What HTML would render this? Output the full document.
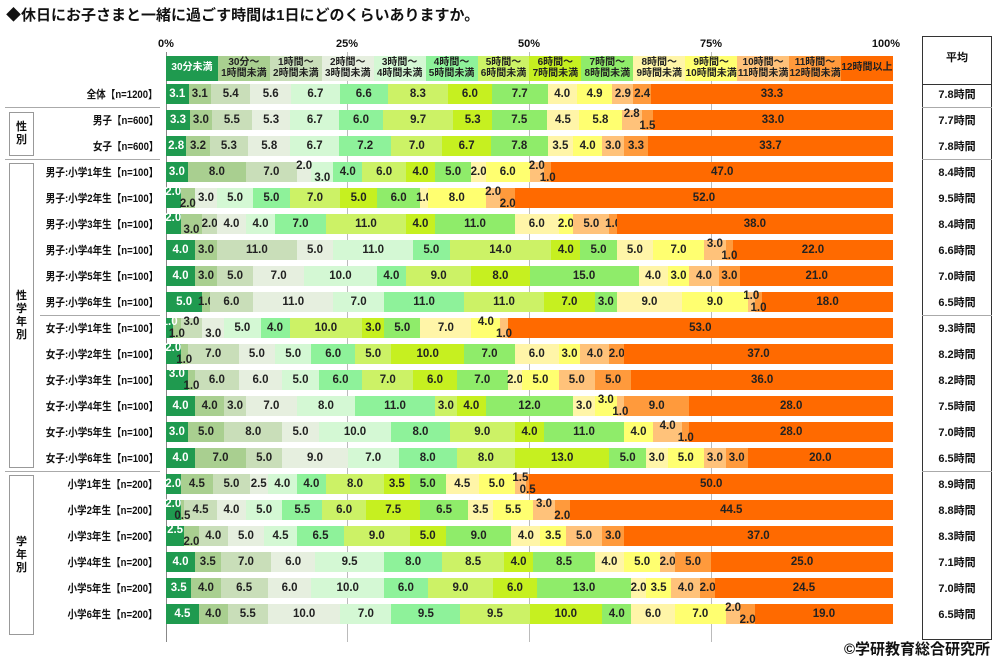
<!DOCTYPE html>
<html><head><meta charset="utf-8"><style>
*{margin:0;padding:0;box-sizing:border-box}
body{width:1000px;height:660px;background:#fff;position:relative;overflow:hidden;font-family:"Liberation Sans","Noto Sans CJK JP",sans-serif;color:#111}
.t{position:absolute;left:6px;top:4px;font-size:15px;font-weight:bold}
.ax{position:absolute;top:38px;font-size:11px;font-weight:bold;transform:translateX(-50%)}
.g{position:absolute;top:52px;width:1px;height:590px;background:#bbb}
.bar{position:absolute;left:166px;width:727px;height:20px;display:flex}
.bar i{font-style:normal;flex-basis:0;display:flex;align-items:center;justify-content:center;font-size:11.5px;font-weight:bold;white-space:nowrap;min-width:0;color:#222}
.bar i.u span{position:relative;top:-6px}.bar i.d span{position:relative;top:6px}
.lg{top:56px;height:25px}.lg i{font-size:10px;line-height:10.5px;text-align:center;flex:1}
.c0{background:#1f9a4f;color:#fff!important}.c1{background:#a9cf90}.c2{background:#c9deb9}.c3{background:#e6efdf}.c4{background:#d4f8d4}.c5{background:#8ef29a}.c6{background:#ccf266}.c7{background:#c6f020}.c8{background:#8fec6a}.c9{background:#fff5a8}.c10{background:#ffff70}.c11{background:#ffc27a}.c12{background:#ff9a3c}.c13{background:#ff6a00}
.rl{position:absolute;right:842px;font-size:11px;font-weight:bold;white-space:nowrap;transform:translateY(-50%) scaleX(0.87);transform-origin:right center}
.av{position:absolute;left:922px;width:70px;text-align:center;font-size:11px;font-weight:bold;transform:translateY(-50%)}
.hl{position:absolute;height:1px;background:#aaa}
.box{position:absolute;border:1px solid #999;font-size:11px;font-weight:bold;display:flex;align-items:center;justify-content:center;text-align:center;line-height:13px}
</style></head><body>
<div class="t">◆休日にお子さまと一緒に過ごす時間は1日にどのくらいありますか。</div>
<div class="ax" style="left:166px">0%</div><div class="ax" style="left:347px">25%</div><div class="ax" style="left:529px">50%</div><div class="ax" style="left:711px">75%</div><div class="ax" style="left:886px">100%</div>
<div class="g" style="left:166px;background:#888"></div><div class="g" style="left:347px"></div><div class="g" style="left:529px"></div><div class="g" style="left:711px"></div>
<div class="bar lg"><i class="c0">30分未満</i><i class="c1">30分～<br>1時間未満</i><i class="c2">1時間～<br>2時間未満</i><i class="c3">2時間～<br>3時間未満</i><i class="c4">3時間～<br>4時間未満</i><i class="c5">4時間～<br>5時間未満</i><i class="c6">5時間～<br>6時間未満</i><i class="c7">6時間～<br>7時間未満</i><i class="c8">7時間～<br>8時間未満</i><i class="c9">8時間～<br>9時間未満</i><i class="c10">9時間～<br>10時間未満</i><i class="c11">10時間～<br>11時間未満</i><i class="c12">11時間～<br>12時間未満</i><i class="c13">12時間以上</i></div>
<div style="position:absolute;left:922px;top:36px;width:70px;height:604px;border:1px solid #333"></div>
<div style="position:absolute;left:922px;top:84px;width:70px;height:1px;background:#333"></div>
<div class="av" style="top:57px">平均</div>
<div class="hl" style="left:5px;width:155px;top:107px"></div><div class="hl" style="left:5px;width:155px;top:159px"></div><div class="hl" style="left:40px;width:120px;top:315px"></div><div class="hl" style="left:5px;width:155px;top:471px"></div>
<div class="hl" style="left:922px;width:70px;top:107px"></div><div class="hl" style="left:922px;width:70px;top:159px"></div><div class="hl" style="left:922px;width:70px;top:315px"></div><div class="hl" style="left:922px;width:70px;top:471px"></div>
<div class="box" style="left:9px;top:112px;width:25px;height:44px">性<br>別</div>
<div class="box" style="left:9px;top:163px;width:25px;height:305px">性<br>学<br>年<br>別</div>
<div class="box" style="left:9px;top:475px;width:25px;height:160px">学<br>年<br>別</div>

<div class="rl" style="top:94px">全体【n=1200】</div><div class="av" style="top:94px">7.8時間</div>
<div class="bar" style="top:84px"><i class="c0" style="flex:3.1"><span>3.1</span></i><i class="c1" style="flex:3.1"><span>3.1</span></i><i class="c2" style="flex:5.4"><span>5.4</span></i><i class="c3" style="flex:5.6"><span>5.6</span></i><i class="c4" style="flex:6.7"><span>6.7</span></i><i class="c5" style="flex:6.6"><span>6.6</span></i><i class="c6" style="flex:8.3"><span>8.3</span></i><i class="c7" style="flex:6"><span>6.0</span></i><i class="c8" style="flex:7.7"><span>7.7</span></i><i class="c9" style="flex:4"><span>4.0</span></i><i class="c10" style="flex:4.9"><span>4.9</span></i><i class="c11" style="flex:2.9"><span>2.9</span></i><i class="c12" style="flex:2.4"><span>2.4</span></i><i class="c13" style="flex:33.3"><span>33.3</span></i></div>

<div class="rl" style="top:120px">男子【n=600】</div><div class="av" style="top:120px">7.7時間</div>
<div class="bar" style="top:110px"><i class="c0" style="flex:3.3"><span>3.3</span></i><i class="c1" style="flex:3"><span>3.0</span></i><i class="c2" style="flex:5.5"><span>5.5</span></i><i class="c3" style="flex:5.3"><span>5.3</span></i><i class="c4" style="flex:6.7"><span>6.7</span></i><i class="c5" style="flex:6"><span>6.0</span></i><i class="c6" style="flex:9.7"><span>9.7</span></i><i class="c7" style="flex:5.3"><span>5.3</span></i><i class="c8" style="flex:7.5"><span>7.5</span></i><i class="c9" style="flex:4.5"><span>4.5</span></i><i class="c10" style="flex:5.8"><span>5.8</span></i><i class="c11 u" style="flex:2.8"><span>2.8</span></i><i class="c12 d" style="flex:1.5"><span>1.5</span></i><i class="c13" style="flex:33"><span>33.0</span></i></div>

<div class="rl" style="top:146px">女子【n=600】</div><div class="av" style="top:146px">7.8時間</div>
<div class="bar" style="top:136px"><i class="c0" style="flex:2.8"><span>2.8</span></i><i class="c1" style="flex:3.2"><span>3.2</span></i><i class="c2" style="flex:5.3"><span>5.3</span></i><i class="c3" style="flex:5.8"><span>5.8</span></i><i class="c4" style="flex:6.7"><span>6.7</span></i><i class="c5" style="flex:7.2"><span>7.2</span></i><i class="c6" style="flex:7"><span>7.0</span></i><i class="c7" style="flex:6.7"><span>6.7</span></i><i class="c8" style="flex:7.8"><span>7.8</span></i><i class="c9" style="flex:3.5"><span>3.5</span></i><i class="c10" style="flex:4"><span>4.0</span></i><i class="c11" style="flex:3"><span>3.0</span></i><i class="c12" style="flex:3.3"><span>3.3</span></i><i class="c13" style="flex:33.7"><span>33.7</span></i></div>

<div class="rl" style="top:172px">男子:小学1年生【n=100】</div><div class="av" style="top:172px">8.4時間</div>
<div class="bar" style="top:162px"><i class="c0" style="flex:3"><span>3.0</span></i><i class="c1" style="flex:8"><span>8.0</span></i><i class="c2" style="flex:7"><span>7.0</span></i><i class="c3 u" style="flex:2"><span>2.0</span></i><i class="c4 d" style="flex:3"><span>3.0</span></i><i class="c5" style="flex:4"><span>4.0</span></i><i class="c6" style="flex:6"><span>6.0</span></i><i class="c7" style="flex:4"><span>4.0</span></i><i class="c8" style="flex:5"><span>5.0</span></i><i class="c9" style="flex:2"><span>2.0</span></i><i class="c10" style="flex:6"><span>6.0</span></i><i class="c11 u" style="flex:2"><span>2.0</span></i><i class="c12 d" style="flex:1"><span>1.0</span></i><i class="c13" style="flex:47"><span>47.0</span></i></div>

<div class="rl" style="top:198px">男子:小学2年生【n=100】</div><div class="av" style="top:198px">9.5時間</div>
<div class="bar" style="top:188px"><i class="c0 u" style="flex:2"><span>2.0</span></i><i class="c1 d" style="flex:2"><span>2.0</span></i><i class="c3" style="flex:3"><span>3.0</span></i><i class="c4" style="flex:5"><span>5.0</span></i><i class="c5" style="flex:5"><span>5.0</span></i><i class="c6" style="flex:7"><span>7.0</span></i><i class="c7" style="flex:5"><span>5.0</span></i><i class="c8" style="flex:6"><span>6.0</span></i><i class="c9" style="flex:1"><span>1.0</span></i><i class="c10" style="flex:8"><span>8.0</span></i><i class="c11 u" style="flex:2"><span>2.0</span></i><i class="c12 d" style="flex:2"><span>2.0</span></i><i class="c13" style="flex:52"><span>52.0</span></i></div>

<div class="rl" style="top:224px">男子:小学3年生【n=100】</div><div class="av" style="top:224px">8.4時間</div>
<div class="bar" style="top:214px"><i class="c0 u" style="flex:2"><span>2.0</span></i><i class="c1 d" style="flex:3"><span>3.0</span></i><i class="c2" style="flex:2"><span>2.0</span></i><i class="c3" style="flex:4"><span>4.0</span></i><i class="c4" style="flex:4"><span>4.0</span></i><i class="c5" style="flex:7"><span>7.0</span></i><i class="c6" style="flex:11"><span>11.0</span></i><i class="c7" style="flex:4"><span>4.0</span></i><i class="c8" style="flex:11"><span>11.0</span></i><i class="c9" style="flex:6"><span>6.0</span></i><i class="c10" style="flex:2"><span>2.0</span></i><i class="c11" style="flex:5"><span>5.0</span></i><i class="c12" style="flex:1"><span>1.0</span></i><i class="c13" style="flex:38"><span>38.0</span></i></div>

<div class="rl" style="top:250px">男子:小学4年生【n=100】</div><div class="av" style="top:250px">6.6時間</div>
<div class="bar" style="top:240px"><i class="c0" style="flex:4"><span>4.0</span></i><i class="c1" style="flex:3"><span>3.0</span></i><i class="c2" style="flex:11"><span>11.0</span></i><i class="c3" style="flex:5"><span>5.0</span></i><i class="c4" style="flex:11"><span>11.0</span></i><i class="c5" style="flex:5"><span>5.0</span></i><i class="c6" style="flex:14"><span>14.0</span></i><i class="c7" style="flex:4"><span>4.0</span></i><i class="c8" style="flex:5"><span>5.0</span></i><i class="c9" style="flex:5"><span>5.0</span></i><i class="c10" style="flex:7"><span>7.0</span></i><i class="c11 u" style="flex:3"><span>3.0</span></i><i class="c12 d" style="flex:1"><span>1.0</span></i><i class="c13" style="flex:22"><span>22.0</span></i></div>

<div class="rl" style="top:276px">男子:小学5年生【n=100】</div><div class="av" style="top:276px">7.0時間</div>
<div class="bar" style="top:266px"><i class="c0" style="flex:4"><span>4.0</span></i><i class="c1" style="flex:3"><span>3.0</span></i><i class="c2" style="flex:5"><span>5.0</span></i><i class="c3" style="flex:7"><span>7.0</span></i><i class="c4" style="flex:10"><span>10.0</span></i><i class="c5" style="flex:4"><span>4.0</span></i><i class="c6" style="flex:9"><span>9.0</span></i><i class="c7" style="flex:8"><span>8.0</span></i><i class="c8" style="flex:15"><span>15.0</span></i><i class="c9" style="flex:4"><span>4.0</span></i><i class="c10" style="flex:3"><span>3.0</span></i><i class="c11" style="flex:4"><span>4.0</span></i><i class="c12" style="flex:3"><span>3.0</span></i><i class="c13" style="flex:21"><span>21.0</span></i></div>

<div class="rl" style="top:302px">男子:小学6年生【n=100】</div><div class="av" style="top:302px">6.5時間</div>
<div class="bar" style="top:292px"><i class="c0" style="flex:5"><span>5.0</span></i><i class="c1" style="flex:1"><span>1.0</span></i><i class="c2" style="flex:6"><span>6.0</span></i><i class="c3" style="flex:11"><span>11.0</span></i><i class="c4" style="flex:7"><span>7.0</span></i><i class="c5" style="flex:11"><span>11.0</span></i><i class="c6" style="flex:11"><span>11.0</span></i><i class="c7" style="flex:7"><span>7.0</span></i><i class="c8" style="flex:3"><span>3.0</span></i><i class="c9" style="flex:9"><span>9.0</span></i><i class="c10" style="flex:9"><span>9.0</span></i><i class="c11 u" style="flex:1"><span>1.0</span></i><i class="c12 d" style="flex:1"><span>1.0</span></i><i class="c13" style="flex:18"><span>18.0</span></i></div>

<div class="rl" style="top:328px">女子:小学1年生【n=100】</div><div class="av" style="top:328px">9.3時間</div>
<div class="bar" style="top:318px"><i class="c0 u" style="flex:1"><span>1.0</span></i><i class="c1 d" style="flex:1"><span>1.0</span></i><i class="c2 u" style="flex:3"><span>3.0</span></i><i class="c3 d" style="flex:3"><span>3.0</span></i><i class="c4" style="flex:5"><span>5.0</span></i><i class="c5" style="flex:4"><span>4.0</span></i><i class="c6" style="flex:10"><span>10.0</span></i><i class="c7" style="flex:3"><span>3.0</span></i><i class="c8" style="flex:5"><span>5.0</span></i><i class="c9" style="flex:7"><span>7.0</span></i><i class="c10 u" style="flex:4"><span>4.0</span></i><i class="c11 d" style="flex:1"><span>1.0</span></i><i class="c13" style="flex:53"><span>53.0</span></i></div>

<div class="rl" style="top:354px">女子:小学2年生【n=100】</div><div class="av" style="top:354px">8.2時間</div>
<div class="bar" style="top:344px"><i class="c0 u" style="flex:2"><span>2.0</span></i><i class="c1 d" style="flex:1"><span>1.0</span></i><i class="c2" style="flex:7"><span>7.0</span></i><i class="c3" style="flex:5"><span>5.0</span></i><i class="c4" style="flex:5"><span>5.0</span></i><i class="c5" style="flex:6"><span>6.0</span></i><i class="c6" style="flex:5"><span>5.0</span></i><i class="c7" style="flex:10"><span>10.0</span></i><i class="c8" style="flex:7"><span>7.0</span></i><i class="c9" style="flex:6"><span>6.0</span></i><i class="c10" style="flex:3"><span>3.0</span></i><i class="c11" style="flex:4"><span>4.0</span></i><i class="c12" style="flex:2"><span>2.0</span></i><i class="c13" style="flex:37"><span>37.0</span></i></div>

<div class="rl" style="top:380px">女子:小学3年生【n=100】</div><div class="av" style="top:380px">8.2時間</div>
<div class="bar" style="top:370px"><i class="c0 u" style="flex:3"><span>3.0</span></i><i class="c1 d" style="flex:1"><span>1.0</span></i><i class="c2" style="flex:6"><span>6.0</span></i><i class="c3" style="flex:6"><span>6.0</span></i><i class="c4" style="flex:5"><span>5.0</span></i><i class="c5" style="flex:6"><span>6.0</span></i><i class="c6" style="flex:7"><span>7.0</span></i><i class="c7" style="flex:6"><span>6.0</span></i><i class="c8" style="flex:7"><span>7.0</span></i><i class="c9" style="flex:2"><span>2.0</span></i><i class="c10" style="flex:5"><span>5.0</span></i><i class="c11" style="flex:5"><span>5.0</span></i><i class="c12" style="flex:5"><span>5.0</span></i><i class="c13" style="flex:36"><span>36.0</span></i></div>

<div class="rl" style="top:406px">女子:小学4年生【n=100】</div><div class="av" style="top:406px">7.5時間</div>
<div class="bar" style="top:396px"><i class="c0" style="flex:4"><span>4.0</span></i><i class="c1" style="flex:4"><span>4.0</span></i><i class="c2" style="flex:3"><span>3.0</span></i><i class="c3" style="flex:7"><span>7.0</span></i><i class="c4" style="flex:8"><span>8.0</span></i><i class="c5" style="flex:11"><span>11.0</span></i><i class="c6" style="flex:3"><span>3.0</span></i><i class="c7" style="flex:4"><span>4.0</span></i><i class="c8" style="flex:12"><span>12.0</span></i><i class="c9" style="flex:3"><span>3.0</span></i><i class="c10 u" style="flex:3"><span>3.0</span></i><i class="c11 d" style="flex:1"><span>1.0</span></i><i class="c12" style="flex:9"><span>9.0</span></i><i class="c13" style="flex:28"><span>28.0</span></i></div>

<div class="rl" style="top:432px">女子:小学5年生【n=100】</div><div class="av" style="top:432px">7.0時間</div>
<div class="bar" style="top:422px"><i class="c0" style="flex:3"><span>3.0</span></i><i class="c1" style="flex:5"><span>5.0</span></i><i class="c2" style="flex:8"><span>8.0</span></i><i class="c3" style="flex:5"><span>5.0</span></i><i class="c4" style="flex:10"><span>10.0</span></i><i class="c5" style="flex:8"><span>8.0</span></i><i class="c6" style="flex:9"><span>9.0</span></i><i class="c7" style="flex:4"><span>4.0</span></i><i class="c8" style="flex:11"><span>11.0</span></i><i class="c10" style="flex:4"><span>4.0</span></i><i class="c11 u" style="flex:4"><span>4.0</span></i><i class="c12 d" style="flex:1"><span>1.0</span></i><i class="c13" style="flex:28"><span>28.0</span></i></div>

<div class="rl" style="top:458px">女子:小学6年生【n=100】</div><div class="av" style="top:458px">6.5時間</div>
<div class="bar" style="top:448px"><i class="c0" style="flex:4"><span>4.0</span></i><i class="c1" style="flex:7"><span>7.0</span></i><i class="c2" style="flex:5"><span>5.0</span></i><i class="c3" style="flex:9"><span>9.0</span></i><i class="c4" style="flex:7"><span>7.0</span></i><i class="c5" style="flex:8"><span>8.0</span></i><i class="c6" style="flex:8"><span>8.0</span></i><i class="c7" style="flex:13"><span>13.0</span></i><i class="c8" style="flex:5"><span>5.0</span></i><i class="c9" style="flex:3"><span>3.0</span></i><i class="c10" style="flex:5"><span>5.0</span></i><i class="c11" style="flex:3"><span>3.0</span></i><i class="c12" style="flex:3"><span>3.0</span></i><i class="c13" style="flex:20"><span>20.0</span></i></div>

<div class="rl" style="top:484px">小学1年生【n=200】</div><div class="av" style="top:484px">8.9時間</div>
<div class="bar" style="top:474px"><i class="c0" style="flex:2"><span>2.0</span></i><i class="c1" style="flex:4.5"><span>4.5</span></i><i class="c2" style="flex:5"><span>5.0</span></i><i class="c3" style="flex:2.5"><span>2.5</span></i><i class="c4" style="flex:4"><span>4.0</span></i><i class="c5" style="flex:4"><span>4.0</span></i><i class="c6" style="flex:8"><span>8.0</span></i><i class="c7" style="flex:3.5"><span>3.5</span></i><i class="c8" style="flex:5"><span>5.0</span></i><i class="c9" style="flex:4.5"><span>4.5</span></i><i class="c10" style="flex:5"><span>5.0</span></i><i class="c11 u" style="flex:1.5"><span>1.5</span></i><i class="c12 d" style="flex:0.5"><span>0.5</span></i><i class="c13" style="flex:50"><span>50.0</span></i></div>

<div class="rl" style="top:510px">小学2年生【n=200】</div><div class="av" style="top:510px">8.8時間</div>
<div class="bar" style="top:500px"><i class="c0 u" style="flex:2"><span>2.0</span></i><i class="c1 d" style="flex:0.5"><span>0.5</span></i><i class="c2" style="flex:4.5"><span>4.5</span></i><i class="c3" style="flex:4"><span>4.0</span></i><i class="c4" style="flex:5"><span>5.0</span></i><i class="c5" style="flex:5.5"><span>5.5</span></i><i class="c6" style="flex:6"><span>6.0</span></i><i class="c7" style="flex:7.5"><span>7.5</span></i><i class="c8" style="flex:6.5"><span>6.5</span></i><i class="c9" style="flex:3.5"><span>3.5</span></i><i class="c10" style="flex:5.5"><span>5.5</span></i><i class="c11 u" style="flex:3"><span>3.0</span></i><i class="c12 d" style="flex:2"><span>2.0</span></i><i class="c13" style="flex:44.5"><span>44.5</span></i></div>

<div class="rl" style="top:536px">小学3年生【n=200】</div><div class="av" style="top:536px">8.3時間</div>
<div class="bar" style="top:526px"><i class="c0 u" style="flex:2.5"><span>2.5</span></i><i class="c1 d" style="flex:2"><span>2.0</span></i><i class="c2" style="flex:4"><span>4.0</span></i><i class="c3" style="flex:5"><span>5.0</span></i><i class="c4" style="flex:4.5"><span>4.5</span></i><i class="c5" style="flex:6.5"><span>6.5</span></i><i class="c6" style="flex:9"><span>9.0</span></i><i class="c7" style="flex:5"><span>5.0</span></i><i class="c8" style="flex:9"><span>9.0</span></i><i class="c9" style="flex:4"><span>4.0</span></i><i class="c10" style="flex:3.5"><span>3.5</span></i><i class="c11" style="flex:5"><span>5.0</span></i><i class="c12" style="flex:3"><span>3.0</span></i><i class="c13" style="flex:37"><span>37.0</span></i></div>

<div class="rl" style="top:562px">小学4年生【n=200】</div><div class="av" style="top:562px">7.1時間</div>
<div class="bar" style="top:552px"><i class="c0" style="flex:4"><span>4.0</span></i><i class="c1" style="flex:3.5"><span>3.5</span></i><i class="c2" style="flex:7"><span>7.0</span></i><i class="c3" style="flex:6"><span>6.0</span></i><i class="c4" style="flex:9.5"><span>9.5</span></i><i class="c5" style="flex:8"><span>8.0</span></i><i class="c6" style="flex:8.5"><span>8.5</span></i><i class="c7" style="flex:4"><span>4.0</span></i><i class="c8" style="flex:8.5"><span>8.5</span></i><i class="c9" style="flex:4"><span>4.0</span></i><i class="c10" style="flex:5"><span>5.0</span></i><i class="c11" style="flex:2"><span>2.0</span></i><i class="c12" style="flex:5"><span>5.0</span></i><i class="c13" style="flex:25"><span>25.0</span></i></div>

<div class="rl" style="top:588px">小学5年生【n=200】</div><div class="av" style="top:588px">7.0時間</div>
<div class="bar" style="top:578px"><i class="c0" style="flex:3.5"><span>3.5</span></i><i class="c1" style="flex:4"><span>4.0</span></i><i class="c2" style="flex:6.5"><span>6.5</span></i><i class="c3" style="flex:6"><span>6.0</span></i><i class="c4" style="flex:10"><span>10.0</span></i><i class="c5" style="flex:6"><span>6.0</span></i><i class="c6" style="flex:9"><span>9.0</span></i><i class="c7" style="flex:6"><span>6.0</span></i><i class="c8" style="flex:13"><span>13.0</span></i><i class="c9" style="flex:2"><span>2.0</span></i><i class="c10" style="flex:3.5"><span>3.5</span></i><i class="c11" style="flex:4"><span>4.0</span></i><i class="c12" style="flex:2"><span>2.0</span></i><i class="c13" style="flex:24.5"><span>24.5</span></i></div>

<div class="rl" style="top:614px">小学6年生【n=200】</div><div class="av" style="top:614px">6.5時間</div>
<div class="bar" style="top:604px"><i class="c0" style="flex:4.5"><span>4.5</span></i><i class="c1" style="flex:4"><span>4.0</span></i><i class="c2" style="flex:5.5"><span>5.5</span></i><i class="c3" style="flex:10"><span>10.0</span></i><i class="c4" style="flex:7"><span>7.0</span></i><i class="c5" style="flex:9.5"><span>9.5</span></i><i class="c6" style="flex:9.5"><span>9.5</span></i><i class="c7" style="flex:10"><span>10.0</span></i><i class="c8" style="flex:4"><span>4.0</span></i><i class="c9" style="flex:6"><span>6.0</span></i><i class="c10" style="flex:7"><span>7.0</span></i><i class="c11 u" style="flex:2"><span>2.0</span></i><i class="c12 d" style="flex:2"><span>2.0</span></i><i class="c13" style="flex:19"><span>19.0</span></i></div>

<div style="position:absolute;right:10px;top:638px;font-size:15px;font-weight:bold">©学研教育総合研究所</div>
</body></html>
